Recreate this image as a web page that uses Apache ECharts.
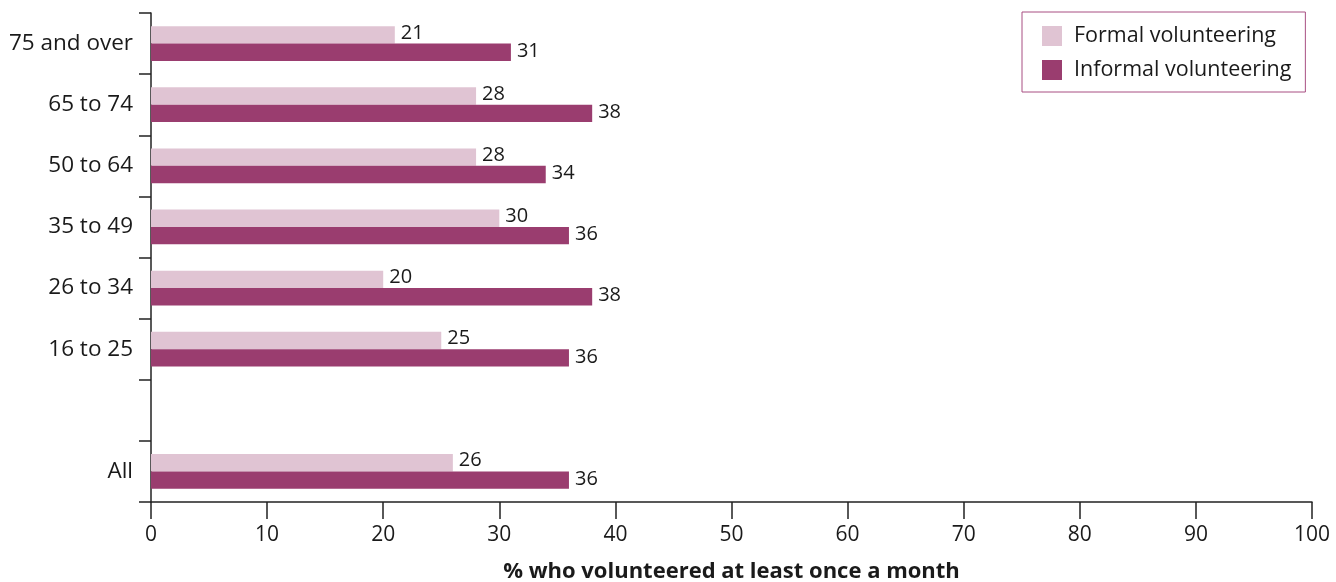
<!DOCTYPE html>
<html>
<head>
<meta charset="utf-8">
<script src="https://cdn.jsdelivr.net/npm/echarts@6/dist/echarts.min.js"></script>
<style>
  html, body { margin: 0; padding: 0; background: #fff; }
  #chart { width: 1336px; height: 582px; }
</style>
</head>
<body>
<div id="chart"></div>
<script>
// Age groups, top to bottom; the blank entry leaves a gap before "All"
const categories = ["75 and over", "65 to 74", "50 to 64", "35 to 49", "26 to 34", "16 to 25", "", "All"];
const formal = [21, 28, 28, 30, 20, 25, null, 26];
const informal = [31, 38, 34, 36, 38, 36, null, 36];
const xTicks = [0, 10, 20, 30, 40, 50, 60, 70, 80, 90, 100];

const FONT = '"Open Sans", "Noto Sans", sans-serif';
const TEXT = '#1a1a1a';
const WEIGHT = 400;

const chart = echarts.init(document.getElementById('chart'), null, { renderer: 'canvas' });

const labelStyle = {
  show: true,
  position: 'right',
  distance: 6,
  color: TEXT,
  fontFamily: FONT,
  fontWeight: WEIGHT,
  fontSize: 20,
  formatter: p => (p.value == null ? '' : p.value)
};

chart.setOption({
  animation: false,
  textStyle: { fontFamily: FONT },
  grid: { left: 151, right: 24, top: 13, bottom: 80, containLabel: false, outerBoundsMode: 'none' },
  legend: {
    orient: 'vertical',
    left: 1022,
    top: 12,
    padding: [13, 14, 11, 20],
    borderColor: '#a84f82',
    borderWidth: 1,
    itemWidth: 20,
    itemHeight: 20,
    itemGap: 12,
    icon: 'rect',
    textStyle: { fontFamily: FONT, fontWeight: WEIGHT, fontSize: 21.5, color: TEXT, padding: [0, 0, 0, 7] },
    data: ['Formal volunteering', 'Informal volunteering']
  },
  xAxis: {
    type: 'value',
    min: xTicks[0],
    max: xTicks[xTicks.length - 1],
    interval: 10,
    name: '% who volunteered at least once a month',
    nameLocation: 'middle',
    nameGap: 59,
    nameTextStyle: { fontFamily: FONT, fontSize: 22, fontWeight: 'bold', color: TEXT },
    axisLine: { show: true, lineStyle: { color: '#222', width: 1.5 } },
    axisTick: { show: true, length: 17, lineStyle: { color: '#222', width: 1.5 } },
    axisLabel: { color: TEXT, fontFamily: FONT, fontWeight: WEIGHT, fontSize: 21, margin: 23 },
    splitLine: { show: false }
  },
  yAxis: {
    type: 'category',
    inverse: true,
    data: categories,
    axisLine: { show: true, lineStyle: { color: '#222', width: 1.5 } },
    axisTick: { show: true, length: 12, alignWithLabel: false, lineStyle: { color: '#222', width: 1.5 } },
    axisLabel: { color: TEXT, fontFamily: FONT, fontWeight: WEIGHT, fontSize: 22.5, margin: 18 }
  },
  series: [
    {
      name: 'Formal volunteering',
      type: 'bar',
      data: formal,
      itemStyle: { color: '#e0c4d3' },
      barGap: '0%',
      barCategoryGap: '43%',
      label: Object.assign({}, labelStyle, { offset: [0, -2] })
    },
    {
      name: 'Informal volunteering',
      type: 'bar',
      data: informal,
      itemStyle: { color: '#9a3d6f' },
      barGap: '0%',
      barCategoryGap: '43%',
      label: Object.assign({}, labelStyle, { offset: [0, -1] })
    }
  ]
});
</script>
</body>
</html>
